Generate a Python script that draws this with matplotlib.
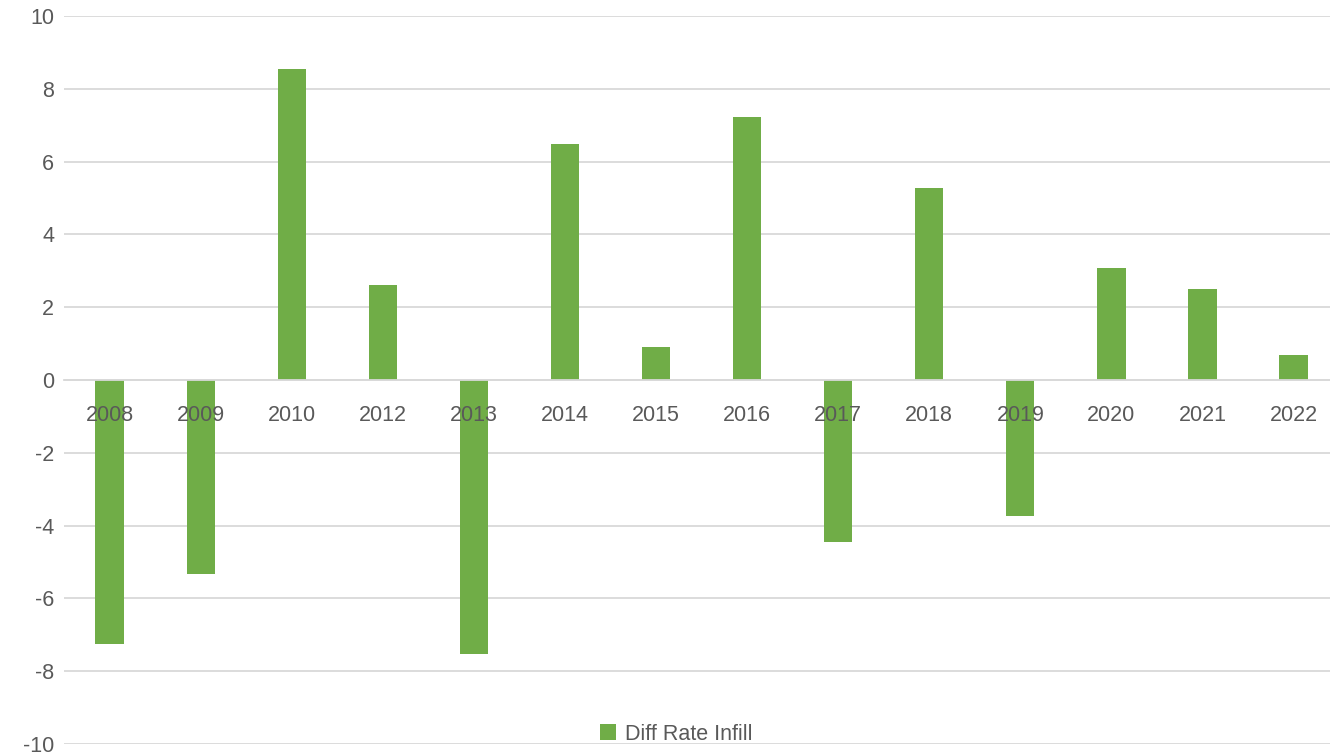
import matplotlib
matplotlib.use("Agg")
import matplotlib.pyplot as plt
import numpy as np

years = ["2008", "2009", "2010", "2012", "2013", "2014", "2015",
         "2016", "2017", "2018", "2019", "2020", "2021", "2022"]
diff_rate_infill = [-7.25, -5.33, 8.54, 2.61, -7.52, 6.48, 0.91,
                    7.23, -4.45, 5.27, -3.74, 3.08, 2.50, 0.69]

BAR_COLOR = "#70AD47"
GRID_COLOR = "#D9D9D9"
TEXT_COLOR = "#595959"

plt.rcParams["font.family"] = ["Liberation Sans", "DejaVu Sans"]
plt.rcParams["axes.unicode_minus"] = False

fig = plt.figure(figsize=(13.3, 7.54), dpi=100)
ax = fig.add_axes([64 / 1330, 0.01326, 1 - 64 / 1330, 0.9788 - 0.01326])

x = np.arange(len(years))

# horizontal gridlines behind the bars
for yv in range(-10, 11, 2):
    ax.axhline(yv, color=GRID_COLOR, linewidth=1.3, zorder=0)

ax.bar(x, diff_rate_infill, width=0.31, color=BAR_COLOR, zorder=1,
       label="Diff Rate Infill")

ax.set_xlim(-0.5, 13.4)
ax.set_ylim(-10, 10)
ax.set_yticks(range(-10, 11, 2))

for side in ["left", "right", "top"]:
    ax.spines[side].set_visible(False)
ax.spines["bottom"].set_position(("data", 0))
ax.spines["bottom"].set_color(GRID_COLOR)
ax.spines["bottom"].set_linewidth(1.3)
ax.spines["bottom"].set_zorder(3)

ax.set_xticks(x)
ax.set_xticklabels(years)
ax.tick_params(axis="x", length=0, pad=18, labelsize=15.5, labelcolor=TEXT_COLOR)
ax.tick_params(axis="y", length=0, pad=7, labelsize=15.5, labelcolor=TEXT_COLOR)
ax.xaxis.set_zorder(4)

fig.legend(loc="center", bbox_to_anchor=(676 / 1330, 1 - 734 / 754),
           frameon=False, fontsize=15.5, labelcolor=TEXT_COLOR,
           handlelength=0.75, handleheight=0.75, handletextpad=0.4,
           borderpad=0, borderaxespad=0)

fig.savefig("out.png", dpi=100)
